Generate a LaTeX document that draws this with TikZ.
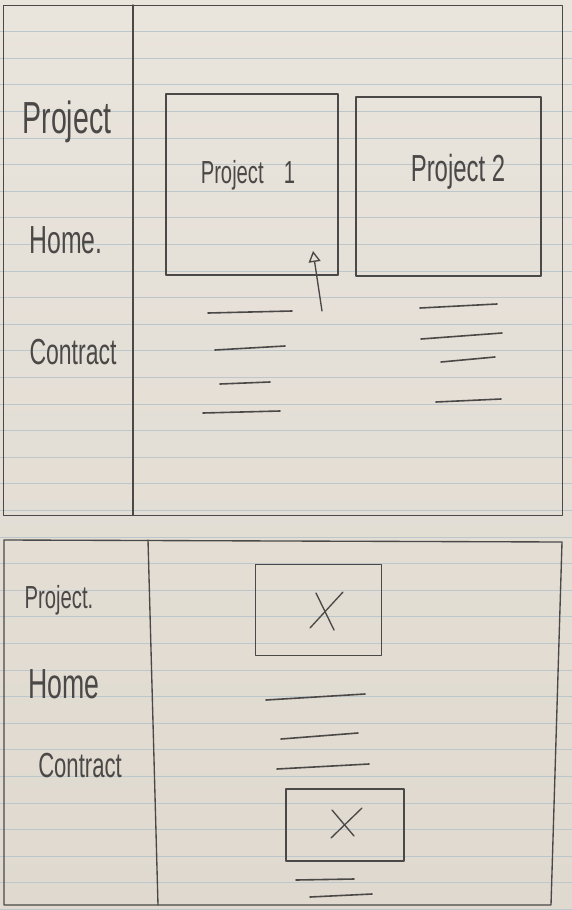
\documentclass[tikz,border=0pt]{standalone}
\usepackage{fontspec}
\usepackage{graphicx}
\setmainfont{Liberation Sans}
\usetikzlibrary{arrows.meta}
\definecolor{paper}{HTML}{E9E4DC}
\definecolor{paperlow}{HTML}{DFD9CF}
\definecolor{ruling}{HTML}{BCC7CB}
\definecolor{pencil}{HTML}{4B4947}
% tall, narrow hand lettering
\newcommand{\handtext}[2]{\scalebox{0.92}[1.45]{\fontsize{#1}{#1}\selectfont #2}}
\tikzset{
  pen/.style={draw=pencil, line width=1.35pt, line cap=round, line join=round},
  card/.style={pen, rectangle, inner sep=0pt},
  hand/.style={text=pencil, inner sep=0pt},
  ruleline/.style={draw=ruling, line width=0.7pt},
  dash line/.style={pen, line width=1.6pt}
}
\begin{document}
\begin{tikzpicture}[x=1pt,y=-1pt]
  \useasboundingbox (0,0) rectangle (572,910);
  % sheet of ruled paper
  \shade[top color=paper, bottom color=paperlow] (0,0) rectangle (572,910);
  \foreach \k in {1,...,34}
    \draw[ruleline] (0,{5+26.6*\k}) -- (572,{5+26.6*\k});

  % ---------- upper screen: project overview ----------
  \node[card, minimum width=559pt, minimum height=510pt, anchor=north west] (topframe) at (3,5) {};
  \draw[pen] (133,5) -- (133,515);

  \node[hand] (navproject) at (67,122) {\handtext{31}{Project}};
  \node[hand] (navhome)    at (66,240) {\handtext{27}{Home.}};
  \node[hand] (navcontract) at (73,352) {\handtext{25}{Contract}};

  \node[card, minimum width=172pt, minimum height=181pt] (p1) at (252,184.5) {};
  \node[hand] (p1label) at (248,175) {\handtext{22}{Project\quad 1}};
  \node[card, minimum width=185pt, minimum height=179pt] (p2) at (448.5,186.5) {};
  \node[hand] (p2label) at (458,172) {\handtext{26}{Project 2}};

  \coordinate (pointer) at (322,311);
  \coordinate (pointertip) at (313,251);
  \draw[pen, -{Triangle[open, length=11pt, width=12pt]}] (pointer) -- (pointertip);

  % text placeholders below each card
  \draw[dash line] (208,313) -- (292,311);
  \draw[dash line] (215,350) -- (285,346);
  \draw[dash line] (220,384) -- (270,382);
  \draw[dash line] (203,413) -- (280,411);

  \draw[dash line] (420,308) -- (497,304);
  \draw[dash line] (421,339) -- (502,333);
  \draw[dash line] (441,362) -- (495,357);
  \draw[dash line] (436,402) -- (501,399);

  % ---------- lower screen: mobile layout ----------
  \draw[pen] (4,540) -- (562,542) -- (551,905) -- (4,905) -- cycle;
  \draw[pen] (148,540) -- (158,905);

  \node[hand] (mproject)  at (59,600) {\handtext{22}{Project.}};
  \node[hand] (mhome)     at (64,684) {\handtext{29}{Home}};
  \node[hand] (mcontract) at (80,766) {\handtext{24}{Contract}};

  \node[card, minimum width=126pt, minimum height=91pt] (img1) at (318.5,610) {};
  \draw[pen] (316,593) -- (334,630);
  \draw[pen] (343,592) -- (310,628);

  \draw[dash line] (266,700) -- (365,694);
  \draw[dash line] (281,739) -- (358,733);
  \draw[dash line] (277,769) -- (369,764);

  \node[card, minimum width=118pt, minimum height=72pt] (img2) at (345,825) {};
  \draw[pen] (332,810) -- (354,836);
  \draw[pen] (362,808) -- (331,838);

  \draw[dash line] (296,880) -- (354,879);
  \draw[dash line] (310,897) -- (372,894);
\end{tikzpicture}
\end{document}
